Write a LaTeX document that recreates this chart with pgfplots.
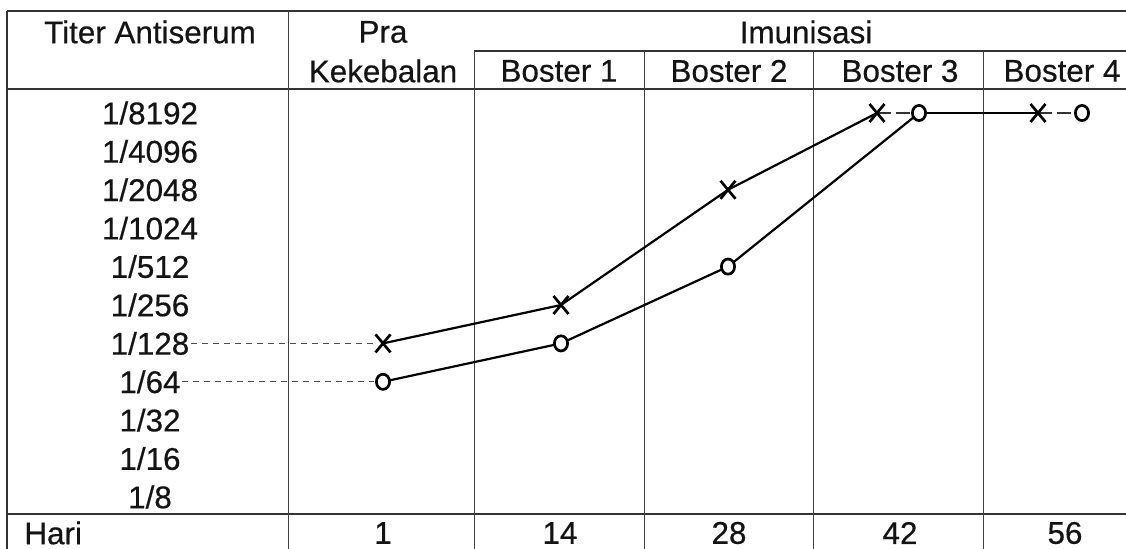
\documentclass[border=0pt]{standalone}
\usepackage{pgfplots}
\pgfplotsset{compat=1.18}
\usepackage{fontspec}
\setmainfont{Liberation Sans}
\newfontfamily\heavy{Liberation Sans}[FakeBold=0.45]

% Titer exponent e: titer = 1/2^e
\pgfplotstableread{
x   e
383 7
561 8
728 11
877 13
}\seriesX
\pgfplotstableread{
x   e
383 6
561 7
728 9
919 13
}\seriesO

\begin{document}
\begin{tikzpicture}
\begin{scope}[x=0.5pt,y=-0.5pt]
\path[use as bounding box] (0,0) rectangle (1126,549);
% horizontal rules
\draw[line width=1pt, black!80] (7,11) -- (1126,11);
\draw[line width=0.9pt, black!80] (474,51) -- (1126,51);
\draw[line width=1pt, black!80] (7,89) -- (1126,89);
\draw[line width=1pt, black!80] (7,514) -- (1126,514);
% vertical rules
\draw[line width=0.9pt, black!80] (7,11) -- (7,549);
\draw[line width=0.5pt, black!75] (288,11) -- (288,549);
\draw[line width=0.5pt, black!75] (474,51) -- (474,549);
\draw[line width=0.5pt, black!75] (644,51) -- (644,549);
\draw[line width=0.5pt, black!75] (813,51) -- (813,549);
\draw[line width=0.5pt, black!75] (983,51) -- (983,549);
% header texts
\begin{scope}[every node/.style={font=\heavy\fontsize{15.7}{18}\selectfont, inner sep=0pt, text=black!92}]
\node at (150,32) {Titer Antiserum};
\node at (383,32) {Pra};
\node at (383,71) {Kekebalan};
\node at (806,32) {Imunisasi};
\node at (559,71) {Boster 1};
\node at (729,71) {Boster 2};
\node at (900,71) {Boster 3};
\node at (1062,71) {Boster 4};
% titer labels
\node at (150,113.0) {1/8192};
\node at (150,151.4) {1/4096};
\node at (150,189.8) {1/2048};
\node at (150,228.2) {1/1024};
\node at (150,266.6) {1/512};
\node at (150,305.0) {1/256};
\node at (150,343.4) {1/128};
\node at (150,381.8) {1/64};
\node at (150,420.2) {1/32};
\node at (150,458.6) {1/16};
\node at (150,497.0) {1/8};
% day row
\node[anchor=west] at (24,533) {Hari};
\node at (383,533) {1};
\node at (560,533) {14};
\node at (729,533) {28};
\node at (900,533) {42};
\node at (1065,533) {56};
\end{scope}
\end{scope}

\begin{axis}[at={(0pt,-274.5pt)}, anchor=south west, scale only axis,
  width=563pt, height=274.5pt,
  xmin=0, xmax=1126, ymin=1.6458, ymax=15.9427,
  hide axis, clip=false]
% dashed leaders
\addplot[black!70, line width=0.5pt, dash pattern=on 3pt off 2.5pt] coordinates {(191,7) (374,7)};
\addplot[black!70, line width=0.5pt, dash pattern=on 3pt off 2.5pt] coordinates {(182,6) (374,6)};
% horizontal connection at 1/8192
\addplot[black, line width=1.1pt] coordinates {(919,13) (1038,13)};
\addplot[black!80, line width=0.9pt, dash pattern=on 7pt off 2.5pt] coordinates {(877,13) (919,13)};
\addplot[black!80, line width=0.9pt, dash pattern=on 7pt off 2.5pt] coordinates {(1038,13) (1082,13)};
% series
\addplot[black, line width=1.1pt, mark=x, mark size=5.3pt,
  mark options={line width=1.35pt, solid, yscale=1.2}] table[x=x,y=e] {\seriesX};
\addplot[black, line width=1.1pt, mark=*, mark size=3.3pt,
  mark options={line width=1.35pt, solid, fill=white, yscale=1.15}] table[x=x,y=e] {\seriesO};
\addplot[only marks, black, mark=x, mark size=5.3pt,
  mark options={line width=1.35pt, solid, yscale=1.2}] coordinates {(1038,13)};
\addplot[only marks, black, mark=*, mark size=3.3pt,
  mark options={line width=1.35pt, solid, fill=white, yscale=1.15}] coordinates {(1082,13)};
\end{axis}
\end{tikzpicture}
\end{document}
